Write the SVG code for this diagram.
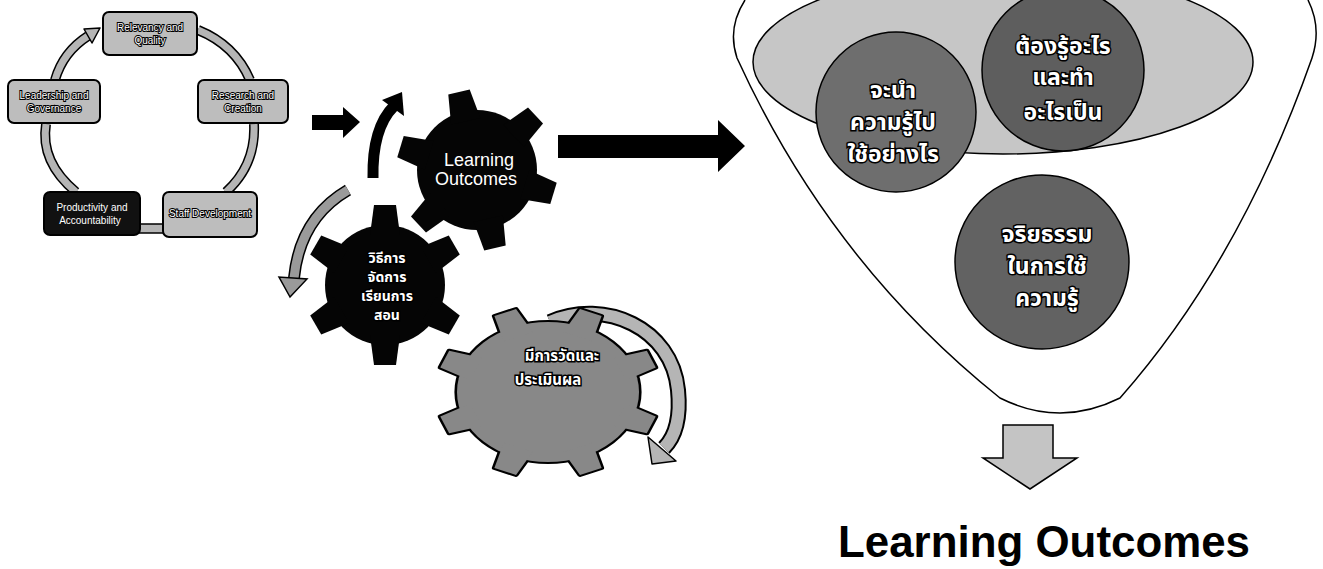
<svg xmlns="http://www.w3.org/2000/svg" xmlns:xlink="http://www.w3.org/1999/xlink" width="1323" height="569" viewBox="0 0 1323 569">
<style>
.box{fill:#bdbdbd;stroke:#000;stroke-width:2}
.boxdark{fill:#111;stroke:#000;stroke-width:2}
.btxt{font-family:"Liberation Sans",Arial,sans-serif;font-size:10px;fill:#fff;stroke:#000;stroke-width:2;paint-order:stroke;text-anchor:middle}
.wtxt{font-family:"Liberation Sans",Arial,sans-serif;fill:#fff;text-anchor:middle}
.thai{font-family:"Noto Sans Thai","Noto Sans","DejaVu Sans",sans-serif;fill:#fff;stroke:#000;stroke-width:3;paint-order:stroke;text-anchor:middle;font-weight:bold}
.bandO{fill:none;stroke:#000;stroke-linecap:butt}
.bandI{fill:none;stroke:#b5b5b5;stroke-linecap:butt}
.head{fill:#b5b5b5;stroke:#000;stroke-width:1.5;stroke-linejoin:round}
</style>
<defs>
<path id="tooth1" d="M-15,-50 L15,-50 L11,-80 L-11,-80 Z"/>
<path id="tooth2" d="M-15,-50 L15,-50 L11,-80 L-11,-80 Z"/>
<path id="tooth3" d="M-12,-60 L12,-60 L9,-86 L-9,-86 Z"/>
</defs>

<!-- connectors -->
<g id="connectors">
  <path class="bandO" stroke-width="10" d="M55,80 Q63,52 88,36"/>
  <path class="bandI" stroke-width="7" d="M55,80 Q63,52 88,36"/>
  <polygon class="head" points="100,28 84,29 92,43"/>
  <path class="bandO" stroke-width="10" d="M198,30 Q235,45 250,80"/>
  <path class="bandI" stroke-width="7" d="M198,30 Q235,45 250,80"/>
  <path class="bandO" stroke-width="10" d="M254,124 Q256,165 226,192"/>
  <path class="bandI" stroke-width="7" d="M254,124 Q256,165 226,192"/>
  <rect x="139" y="224" width="25" height="9" fill="#b5b5b5" stroke="#000" stroke-width="1.5"/>
  <path class="bandO" stroke-width="10" d="M76,192 Q40,162 46,124"/>
  <path class="bandI" stroke-width="7" d="M76,192 Q40,162 46,124"/>

  <polygon points="312,115 343,115 343,107 360,122 343,138 343,130 312,130" fill="#000"/>

  <path d="M373,178 Q372,128 394,106" fill="none" stroke="#000" stroke-width="11"/>
  <polygon points="402,92 382,100 404,116" fill="#000"/>

  <path class="bandO" stroke-width="12" d="M348,190 Q300,218 294,278"/>
  <path stroke-width="9" fill="none" stroke="#9a9a9a" d="M348,190 Q300,218 294,278"/>
  <polygon points="290,297 279,277 307,279" fill="#9a9a9a" stroke="#000" stroke-width="1.5"/>

  <path class="bandO" stroke-width="16" d="M550,322 C605,298 672,328 678,390 C681,420 674,438 664,448"/>
  <path class="bandI" stroke-width="12" d="M550,322 C605,298 672,328 678,390 C681,420 674,438 664,448"/>
  <polygon class="head" points="652,464 648,437 676,461"/>

  <polygon points="558,135 718,135 718,120 745,146 718,172 718,158 558,158" fill="#000"/>

  <polygon points="1003,425 1053,425 1053,458 1077,458 1030,489 983,458 1003,458" fill="#c4c4c4" stroke="#000" stroke-width="1.5"/>
</g>

<g id="node-top">
  <rect class="box" x="103" y="12" width="94" height="43" rx="6"/>
  <text class="btxt" x="150" y="31">Relevancy and</text>
  <text class="btxt" x="150" y="44">Quality</text>
</g>
<g id="node-left">
  <rect class="box" x="8" y="80" width="92" height="43" rx="6"/>
  <text class="btxt" x="54" y="99">Leadership and</text>
  <text class="btxt" x="54" y="112">Governance</text>
</g>
<g id="node-right">
  <rect class="box" x="198" y="80" width="90" height="43" rx="6"/>
  <text class="btxt" x="243" y="99">Research and</text>
  <text class="btxt" x="243" y="112">Creation</text>
</g>
<g id="node-bottomright">
  <rect class="box" x="163" y="192" width="94" height="45" rx="6"/>
  <text class="btxt" x="210" y="217">Staff Development</text>
</g>
<g id="node-productivity">
  <rect class="boxdark" x="44" y="192" width="96" height="43" rx="6"/>
  <text class="wtxt" x="92" y="211" font-size="10">Productivity and</text>
  <text class="wtxt" x="90" y="224" font-size="10">Accountability</text>
</g>

<g id="gear-learning-outcomes">
  <g fill="#050505">
    <circle cx="477" cy="170" r="60"/>
    <use xlink:href="#tooth1" transform="translate(477,170) rotate(-13)"/>
    <use xlink:href="#tooth1" transform="translate(477,170) rotate(47)"/>
    <use xlink:href="#tooth1" transform="translate(477,170) rotate(107)"/>
    <use xlink:href="#tooth1" transform="translate(477,170) rotate(167)"/>
    <use xlink:href="#tooth1" transform="translate(477,170) rotate(227)"/>
    <use xlink:href="#tooth1" transform="translate(477,170) rotate(287)"/>
  </g>
  <text class="wtxt" x="479" y="166" font-size="18">Learning</text>
  <text class="wtxt" x="476" y="185" font-size="18">Outcomes</text>
</g>

<g id="gear-teaching">
  <g fill="#050505">
    <circle cx="385" cy="285" r="60"/>
    <use xlink:href="#tooth2" transform="translate(385,285) rotate(0)"/>
    <use xlink:href="#tooth2" transform="translate(385,285) rotate(60)"/>
    <use xlink:href="#tooth2" transform="translate(385,285) rotate(120)"/>
    <use xlink:href="#tooth2" transform="translate(385,285) rotate(180)"/>
    <use xlink:href="#tooth2" transform="translate(385,285) rotate(240)"/>
    <use xlink:href="#tooth2" transform="translate(385,285) rotate(300)"/>
  </g>
  <text class="thai" x="387" y="263" font-size="14" stroke-width="0">วิธีการ</text>
  <text class="thai" x="387" y="282" font-size="14" stroke-width="0">จัดการ</text>
  <text class="thai" x="387" y="301" font-size="14" stroke-width="0">เรียนการ</text>
  <text class="thai" x="387" y="320" font-size="14" stroke-width="0">สอน</text>
</g>

<g id="gear-assessment">
  <g transform="translate(548,392) scale(1.3,1)" fill="#000" stroke="#000" stroke-width="4" stroke-linejoin="round">
    <circle r="70"/>
    <use xlink:href="#tooth3" transform="rotate(22.5)"/>
    <use xlink:href="#tooth3" transform="rotate(67.5)"/>
    <use xlink:href="#tooth3" transform="rotate(112.5)"/>
    <use xlink:href="#tooth3" transform="rotate(157.5)"/>
    <use xlink:href="#tooth3" transform="rotate(202.5)"/>
    <use xlink:href="#tooth3" transform="rotate(247.5)"/>
    <use xlink:href="#tooth3" transform="rotate(292.5)"/>
    <use xlink:href="#tooth3" transform="rotate(337.5)"/>
  </g>
  <g transform="translate(548,392) scale(1.3,1)" fill="#888">
    <circle r="70"/>
    <use xlink:href="#tooth3" transform="rotate(22.5)"/>
    <use xlink:href="#tooth3" transform="rotate(67.5)"/>
    <use xlink:href="#tooth3" transform="rotate(112.5)"/>
    <use xlink:href="#tooth3" transform="rotate(157.5)"/>
    <use xlink:href="#tooth3" transform="rotate(202.5)"/>
    <use xlink:href="#tooth3" transform="rotate(247.5)"/>
    <use xlink:href="#tooth3" transform="rotate(292.5)"/>
    <use xlink:href="#tooth3" transform="rotate(337.5)"/>
  </g>
  <text class="thai" x="562" y="361" font-size="15" stroke-width="2.5">มีการวัดและ</text>
  <text class="thai" x="548" y="385" font-size="15" stroke-width="2.5">ประเมินผล</text>
</g>

<g id="funnel">
  <path d="M745,0 Q727,28 737,58 Q830,262 1000,398 Q1060,428 1120,398 Q1240,262 1312,58 Q1322,28 1308,0" fill="#fff" stroke="#000" stroke-width="1.5"/>
  <ellipse cx="1003" cy="62" rx="250" ry="92" fill="#c6c6c6" stroke="#000" stroke-width="1.5"/>
</g>

<g id="circle-apply">
  <circle cx="896" cy="112" r="80" fill="#6e6e6e" stroke="#000" stroke-width="1.5"/>
  <text class="thai" x="893" y="98" font-size="23">จะนำ</text>
  <text class="thai" x="893" y="130" font-size="23">ความรู้ไป</text>
  <text class="thai" x="893" y="162" font-size="23">ใช้อย่างไร</text>
</g>
<g id="circle-know">
  <circle cx="1063" cy="70" r="81" fill="#5e5e5e" stroke="#000" stroke-width="1.5"/>
  <text class="thai" x="1063" y="54" font-size="23">ต้องรู้อะไร</text>
  <text class="thai" x="1063" y="85" font-size="23">และทำ</text>
  <text class="thai" x="1063" y="120" font-size="23">อะไรเป็น</text>
</g>
<g id="circle-ethics">
  <circle cx="1042" cy="262" r="87" fill="#626262" stroke="#000" stroke-width="1.5"/>
  <text class="thai" x="1047" y="242" font-size="23">จริยธรรม</text>
  <text class="thai" x="1047" y="274" font-size="23">ในการใช้</text>
  <text class="thai" x="1047" y="306" font-size="23">ความรู้</text>
</g>

<g id="result-label">
  <text x="838" y="557" font-family="'Liberation Sans',Arial,sans-serif" font-weight="bold" font-size="45" fill="#000" textLength="412" lengthAdjust="spacingAndGlyphs">Learning Outcomes</text>
</g>
</svg>
